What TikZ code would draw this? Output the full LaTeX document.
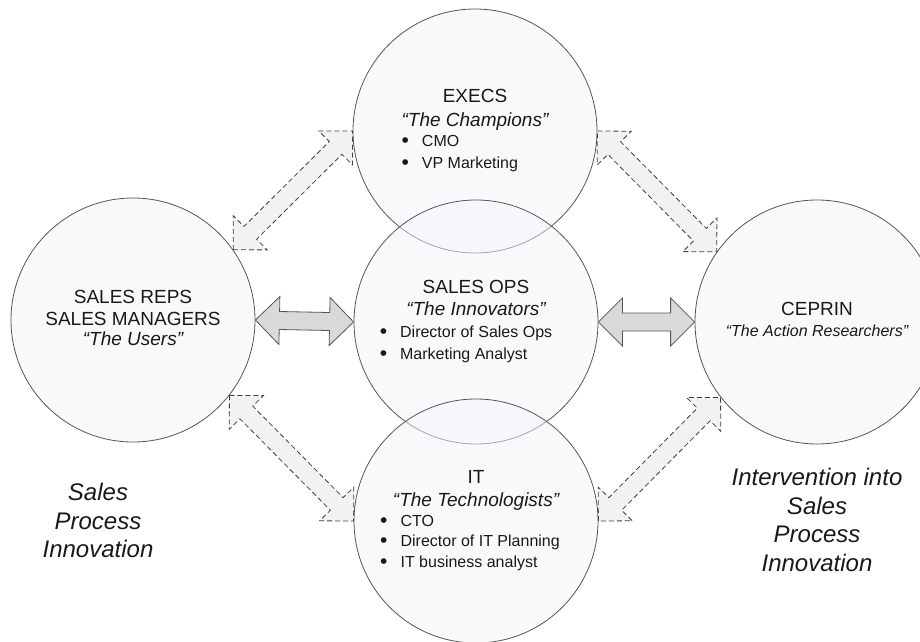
\documentclass[tikz,border=0pt]{standalone}
\usepackage{fontspec}
\setmainfont{Liberation Sans}
\usetikzlibrary{calc}
\definecolor{ringfill}{RGB}{244,244,250}
\definecolor{ringline}{RGB}{85,85,85}
\definecolor{inkgray}{RGB}{25,25,25}
\definecolor{dashfill}{RGB}{242,242,242}
\definecolor{solidfill}{RGB}{217,217,217}
\tikzset{ring/.style = {circle, draw=ringline, line width=0.8pt,
                        fill=ringfill, fill opacity=0.5, text opacity=1,
                        minimum size=244pt, inner sep=0pt, text=inkgray,
                        font=\fontsize{16}{20}\selectfont},
         linkdash/.style = {draw=black!75, dash pattern=on 5pt off 3pt,
                            line width=0.8pt, fill=dashfill},
         linksolid/.style = {draw=ringline, line width=0.8pt, fill=solidfill},
         caption/.style = {align=center, inner sep=0pt, text=inkgray,
                           font=\fontsize{24}{28.5}\selectfont\itshape}}
\newcommand{\hd}[1]{\multicolumn{1}{@{}c@{}}{\fontsize{19}{22}\selectfont #1}}
\newcommand{\bul}[1]{\raisebox{-1pt}{\fontsize{21}{21}\selectfont\textbullet}\hspace{13pt}#1}
% double block arrow between two points
\newcommand{\blockarrow}[3]{%
  \path[#1] (#2) -- ($(#2)!24pt!(#3)!24pt!90:(#3)$) -- ($(#2)!24pt!(#3)!9pt!90:(#3)$)
    -- ($(#3)!24pt!(#2)!9pt!-90:(#2)$) -- ($(#3)!24pt!(#2)!24pt!-90:(#2)$) -- (#3)
    -- ($(#3)!24pt!(#2)!24pt!90:(#2)$) -- ($(#3)!24pt!(#2)!9pt!90:(#2)$)
    -- ($(#2)!24pt!(#3)!9pt!-90:(#3)$) -- ($(#2)!24pt!(#3)!24pt!-90:(#3)$) -- cycle;}
\begin{document}
\begin{tikzpicture}[x=1pt, y=-1pt]
    \useasboundingbox (0,0) rectangle (920,641);
    \node [ring] (users) at (133,320) {\begin{tabular}{@{}c@{}}
        \hd{SALES REPS}\\[2pt]
        \hd{SALES MANAGERS}\\
        \hd{\itshape “The Users”}
      \end{tabular}};
    \node [ring] (execs) at (475,131) {\begin{tabular}{@{}l@{}}
        \hd{EXECS}\\[4pt]
        \hd{\itshape “The Champions”}\\
        \bul{CMO}\\[2pt]
        \bul{VP Marketing}
      \end{tabular}};
    \node [ring] (salesops) at (476,322) {\begin{tabular}{@{}l@{}}
        \hd{SALES OPS}\\[2pt]
        \hd{\itshape “The Innovators”}\\[2pt]
        \bul{Director of Sales Ops\kern20pt}\\[2pt]
        \bul{Marketing Analyst}
      \end{tabular}};
    \node [ring] (it) at (476,521) {\begin{tabular}{@{}l@{}}
        \hd{IT}\\[3pt]
        \hd{\itshape “The Technologists”}\\
        \bul{CTO}\\
        \bul{Director of IT Planning\kern12pt}\\[1pt]
        \bul{IT business analyst}
      \end{tabular}};
    \node [ring] (ceprin) at (817,322) {\begin{tabular}{@{}c@{}}
        \hd{CEPRIN}\\[1pt]
        \itshape “The Action Researchers”
      \end{tabular}};

    \blockarrow{linksolid}{users.east}{salesops.west}
    \blockarrow{linksolid}{salesops.east}{ceprin.west}
    \blockarrow{linkdash}{users.35}{execs.west}
    \blockarrow{linkdash}{execs.east}{ceprin.145}
    \blockarrow{linkdash}{users.-38}{it.west}
    \blockarrow{linkdash}{it.east}{ceprin.218}

    \node [caption, anchor=north] (spi) at (98,483) {Sales\\Process\\Innovation};
    \node [caption, anchor=north] (intervention) at (817,468) {Intervention into\\Sales\\Process\\Innovation};
  \end{tikzpicture}
\end{document}
